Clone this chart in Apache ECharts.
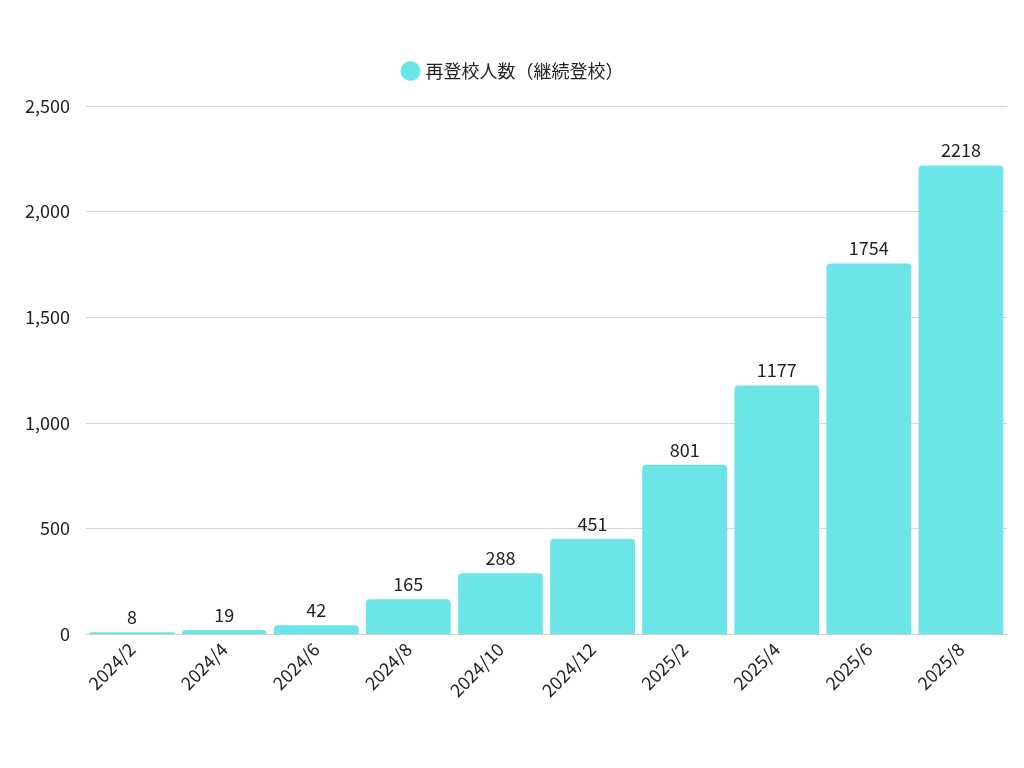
<!DOCTYPE html>
<html><head><meta charset="utf-8">
<script src="https://cdn.jsdelivr.net/npm/echarts@6/dist/echarts.min.js"></script>
<style>html,body{margin:0;padding:0;background:#fff}#c{width:1024px;height:768px}</style>
</head><body><div id="c"></div>
<script>
const categories = ["2024/2","2024/4","2024/6","2024/8","2024/10","2024/12","2025/2","2025/4","2025/6","2025/8"];
const values = [8,19,42,165,288,451,801,1177,1754,2218];
const seriesName = "再登校人数（継続登校）";
const chart = echarts.init(document.getElementById('c'));
const font = "'Noto Sans CJK JP','Noto Sans',sans-serif";
chart.setOption({
  textStyle:{fontFamily:font},
  legend:{top:56,left:'center',icon:'circle',itemWidth:20,itemHeight:20,itemGap:8,
    textStyle:{fontSize:18,color:'#222',fontFamily:font},data:[seriesName]},
  grid:{left:86,right:17,top:106,bottom:134,containLabel:false},
  xAxis:{type:'category',data:categories,
    axisLine:{lineStyle:{color:'#ccc'}},axisTick:{show:false},
    axisLabel:{rotate:45,fontSize:18,color:'#222',margin:12,interval:0,fontFamily:font}},
  yAxis:{type:'value',min:0,max:2500,interval:500,
    axisLabel:{fontSize:18,color:'#222',margin:16,fontFamily:font},
    splitLine:{lineStyle:{color:'#d6d6d6'}}},
  series:[{name:seriesName,type:'bar',data:values,barCategoryGap:'8%',
    itemStyle:{color:'#6ce5e8',borderRadius:[4,4,0,0]},
    label:{show:true,position:'top',fontSize:18,color:'#222',distance:6,fontFamily:font}}]
});
</script></body></html>
